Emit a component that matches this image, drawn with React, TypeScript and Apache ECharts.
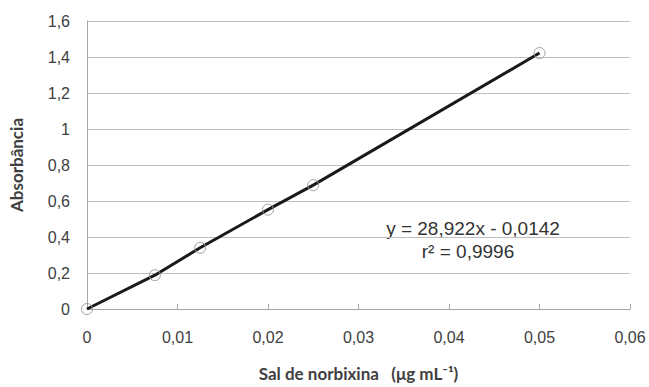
import React, { useEffect, useRef } from "react";
import * as echarts from "echarts";

const concentrations = [0, 0.0075, 0.0125, 0.02, 0.025, 0.05];
const absorbances = [0, 0.188, 0.34, 0.552, 0.688, 1.422];
const equationLines = ["y = 28,922x - 0,0142", "r² = 0,9996"];
const xTitle = "Sal de norbixina   (μg mL⁻¹)";
const yTitle = "Absorbância";

export default function App() {
  const ref = useRef<HTMLDivElement>(null);
  useEffect(() => {
    if (!ref.current) return;
    const chart = echarts.init(ref.current, null, { renderer: "svg" });
    const labelFont = { fontFamily: "Liberation Sans", fontSize: 16, color: "#404040" };
    chart.setOption({
      animation: false,
      backgroundColor: "#ffffff",
      grid: { left: 87, right: 19, top: 21, bottom: 75 },
      xAxis: {
        type: "value",
        min: 0,
        max: 0.06,
        interval: 0.01,
        name: xTitle,
        nameLocation: "middle",
        nameGap: 56,
        nameTextStyle: { fontFamily: "Lato", fontWeight: "bold", fontSize: 17, color: "#404040" },
        axisLine: { show: true, lineStyle: { color: "#a6a6a6", width: 1 } },
        axisTick: { show: true, inside: true, length: 5, lineStyle: { color: "#a6a6a6" } },
        splitLine: { show: false },
        axisLabel: {
          ...labelFont,
          margin: 20,
          formatter: (v: number) => String(Math.round(v * 100) / 100).replace(".", ","),
        },
      },
      yAxis: {
        type: "value",
        min: 0,
        max: 1.6,
        interval: 0.2,
        name: yTitle,
        nameLocation: "middle",
        nameGap: 62,
        nameTextStyle: { fontFamily: "Lato", fontWeight: "bold", fontSize: 17, color: "#404040" },
        axisLine: { show: true, lineStyle: { color: "#a6a6a6", width: 1 } },
        axisTick: { show: false },
        splitLine: { show: true, lineStyle: { color: "#bfbfbf", width: 1 } },
        axisLabel: {
          ...labelFont,
          margin: 17,
          formatter: (v: number) => String(Math.round(v * 10) / 10).replace(".", ","),
        },
      },
      series: [
        {
          type: "line",
          data: concentrations.map((c, i) => [c, absorbances[i]]),
          lineStyle: { color: "#1a1a1a", width: 3 },
          symbol: "circle",
          symbolSize: 11,
          itemStyle: { color: "rgba(255,255,255,0)", borderColor: "#a0a0a0", borderWidth: 1 },
          z: 3,
        },
      ],
      graphic: [
        {
          type: "text",
          x: 473,
          y: 228,
          style: {
            text: equationLines[0],
            fontFamily: "Liberation Sans",
            fontSize: 19,
            fill: "#333333",
            align: "center",
            verticalAlign: "middle",
          },
        },
        {
          type: "text",
          x: 468,
          y: 251,
          style: {
            text: equationLines[1],
            fontFamily: "Liberation Sans",
            fontSize: 19,
            fill: "#333333",
            align: "center",
            verticalAlign: "middle",
          },
        },
      ],
    });
    return () => chart.dispose();
  }, []);
  return <div ref={ref} style={{ width: 649, height: 387, position: "absolute", left: 0, top: 0 }} />;
}
